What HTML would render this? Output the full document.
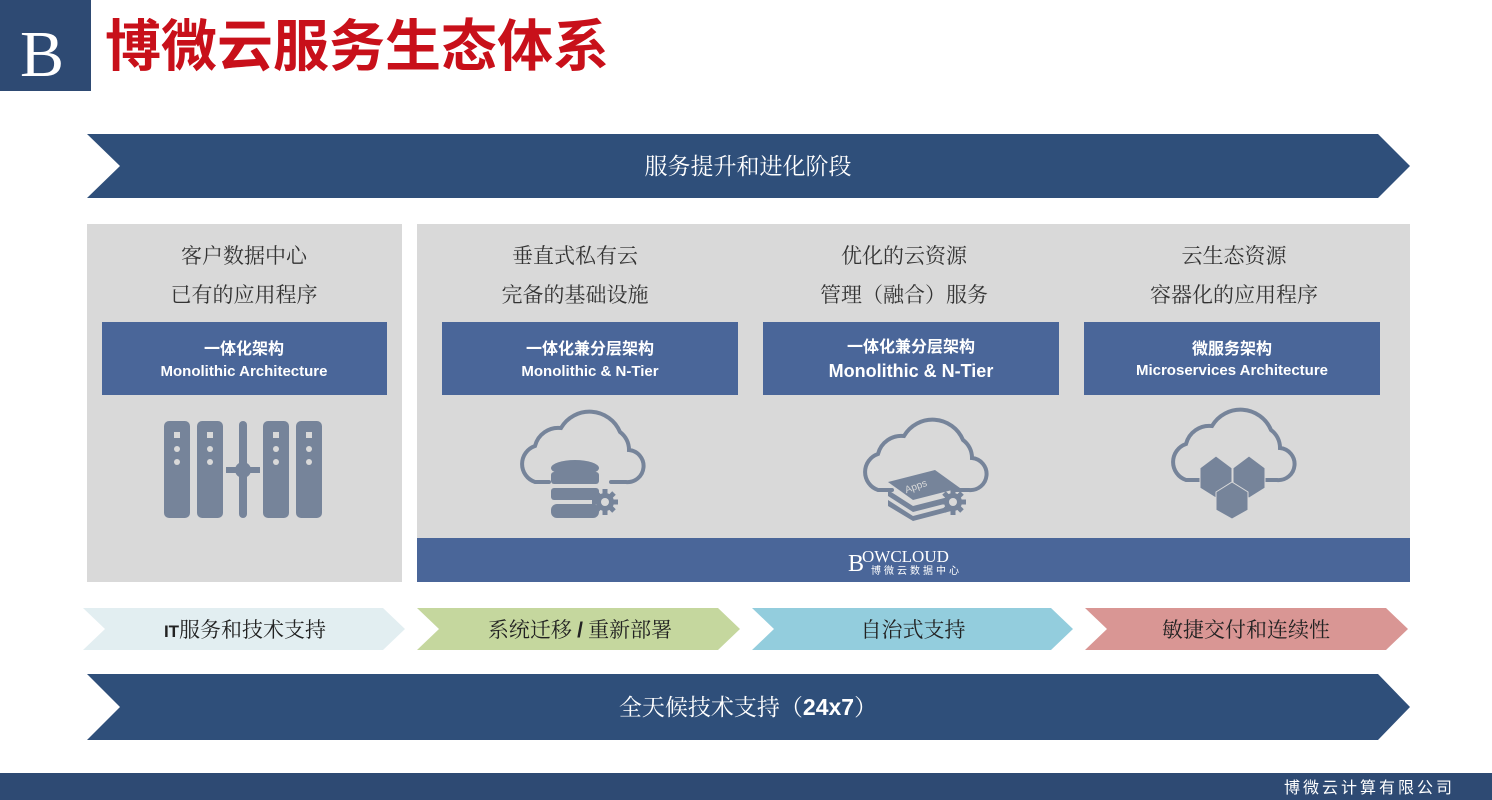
<!DOCTYPE html>
<html><head><meta charset="utf-8"><style>
html,body{margin:0;padding:0;background:#fff;}
svg{display:block;}
text{font-family:"Liberation Serif","Noto Serif CJK SC",serif;}
.s, .s text, text.s, tspan.s{font-family:"Liberation Sans","Noto Sans CJK SC",sans-serif;}
</style></head><body>
<svg width="1492" height="800" viewBox="0 0 1492 800" xmlns="http://www.w3.org/2000/svg">
<defs>
<g id="cloud"><path d="M36,76 H22 A19,19 0 0 1 22,40 A24,24 0 0 1 48,22 A33,33 0 0 1 107,26 A22,22 0 0 1 116,44 A16,16 0 0 1 113,76 H98" fill="none" stroke="#76849a" stroke-width="4" stroke-linecap="round"/></g>
<g id="gear"><circle cx="0" cy="0" r="9" fill="#76849a"/><g stroke="#76849a" stroke-width="5"><line x1="0" y1="-13" x2="0" y2="13"/><line x1="-13" y1="0" x2="13" y2="0"/><line x1="-9" y1="-9" x2="9" y2="9"/><line x1="-9" y1="9" x2="9" y2="-9"/></g><circle cx="0" cy="0" r="4" fill="#d9d9d9"/></g>
</defs>
<rect x="0" y="0" width="91" height="91" fill="#2e4a73"/>
<text x="20" y="76" font-size="66" fill="#fff">B</text>
<text x="105" y="66" font-size="56" font-weight="bold" fill="#c8101a" class="s">博微云服务生态体系</text>
<polygon points="87,134 1378,134 1410,166 1378,198 87,198 120,166" fill="#2f4f7a"/>
<text x="748" y="174" font-size="23" fill="#fff" text-anchor="middle">服务提升和进化阶段</text>
<rect x="87" y="224" width="315" height="358" fill="#d9d9d9"/>
<rect x="417" y="224" width="993" height="358" fill="#d9d9d9"/>
<rect x="417" y="538" width="993" height="44" fill="#4a6699"/>
<text x="848" y="571" font-size="24" fill="#fff">B</text>
<text x="862" y="562" font-size="17" fill="#fff">OWCLOUD</text>
<text x="871" y="574" font-size="10" fill="#fff" class="s" letter-spacing="3">博微云数据中心</text>
<g font-size="21" fill="#333" text-anchor="middle">
<text x="244" y="263">客户数据中心</text><text x="244" y="302">已有的应用程序</text>
<text x="575" y="263">垂直式私有云</text><text x="575" y="302">完备的基础设施</text>
<text x="904" y="263">优化的云资源</text><text x="904" y="302">管理（融合）服务</text>
<text x="1234" y="263">云生态资源</text><text x="1234" y="302">容器化的应用程序</text>
</g>
<g fill="#4a6699">
<rect x="102" y="322" width="285" height="73"/>
<rect x="442" y="322" width="296" height="73"/>
<rect x="763" y="322" width="296" height="73"/>
<rect x="1084" y="322" width="296" height="73"/>
</g>
<g fill="#fff" text-anchor="middle" class="s" font-weight="bold">
<text x="244" y="354" font-size="16">一体化架构</text><text x="244" y="376" font-size="15">Monolithic Architecture</text>
<text x="590" y="354" font-size="16">一体化兼分层架构</text><text x="590" y="376" font-size="15">Monolithic &amp; N-Tier</text>
<text x="911" y="352" font-size="16">一体化兼分层架构</text><text x="911" y="377" font-size="18">Monolithic &amp; N-Tier</text>
<text x="1232" y="354" font-size="16">微服务架构</text><text x="1232" y="375" font-size="15">Microservices Architecture</text>
</g>
<g fill="#76849a">
<rect x="164" y="421" width="26" height="97" rx="5"/><rect x="197" y="421" width="26" height="97" rx="5"/>
<rect x="239" y="421" width="8" height="97" rx="4"/>
<rect x="263" y="421" width="26" height="97" rx="5"/><rect x="296" y="421" width="26" height="97" rx="5"/>
<circle cx="243" cy="470" r="8"/><rect x="226" y="467" width="34" height="6"/>
</g>
<g fill="#d9d9d9">
<rect x="174" y="432" width="6" height="6"/><circle cx="177" cy="449" r="3"/><circle cx="177" cy="462" r="3"/>
<rect x="207" y="432" width="6" height="6"/><circle cx="210" cy="449" r="3"/><circle cx="210" cy="462" r="3"/>
<rect x="273" y="432" width="6" height="6"/><circle cx="276" cy="449" r="3"/><circle cx="276" cy="462" r="3"/>
<rect x="306" y="432" width="6" height="6"/><circle cx="309" cy="449" r="3"/><circle cx="309" cy="462" r="3"/>
</g>
<use href="#cloud" x="513" y="406"/>
<g fill="#76849a"><ellipse cx="575" cy="468" rx="24" ry="8"/><rect x="551" y="472" width="48" height="12" rx="3"/><rect x="551" y="488" width="48" height="12" rx="3"/><rect x="551" y="504" width="48" height="14" rx="6"/></g>
<use href="#gear" x="605" y="502"/>
<use href="#cloud" x="856" y="414"/>
<g fill="#76849a">
<polygon points="888,482 935,470 960,488 913,500"/><polygon points="888,490 913,506 960,494 960,500 913,512 888,496"/><polygon points="888,500 913,516 955,505 955,510 913,521 888,506"/>
</g>
<text x="905" y="490" font-size="10" fill="#d9d9d9" class="s" transform="rotate(-20 915 488)">Apps</text>
<use href="#gear" x="953" y="502"/>
<use href="#cloud" x="1164" y="404"/>
<g fill="#76849a" stroke="#d9d9d9" stroke-width="1">
<polygon points="1200,468 1216,456 1232,468 1232,488 1216,498 1200,488"/>
<polygon points="1233,468 1249,456 1265,468 1265,488 1249,498 1233,488"/>
<polygon points="1216,492 1232,482 1248,492 1248,510 1232,519 1216,510"/>
</g>
<polygon points="83,608 383,608 405,629 383,650 83,650 105,629" fill="#e2eef1"/>
<polygon points="417,608 718,608 740,629 718,650 417,650 439,629" fill="#c5d79e"/>
<polygon points="752,608 1051,608 1073,629 1051,650 752,650 774,629" fill="#93cddd"/>
<polygon points="1085,608 1386,608 1408,629 1386,650 1085,650 1107,629" fill="#d99694"/>
<g font-size="21" fill="#222" text-anchor="middle">
<text x="245" y="637"><tspan class="s" font-weight="bold" font-size="17">IT</tspan>服务和技术支持</text>
<text x="580" y="637">系统迁移 <tspan class="s" font-weight="bold">/</tspan> 重新部署</text>
<text x="913" y="637">自治式支持</text>
<text x="1246" y="637">敏捷交付和连续性</text>
</g>
<polygon points="87,674 1378,674 1410,707 1378,740 87,740 120,707" fill="#2f4f7a"/>
<text x="748" y="715" font-size="23" fill="#fff" text-anchor="middle">全天候技术支持（<tspan class="s" font-weight="bold">24x7</tspan>）</text>
<rect x="0" y="773" width="1492" height="27" fill="#2e4a73"/>
<text x="1455" y="793" font-size="16" fill="#fff" text-anchor="end" class="s" letter-spacing="3">博微云计算有限公司</text>
</svg>
</body></html>
